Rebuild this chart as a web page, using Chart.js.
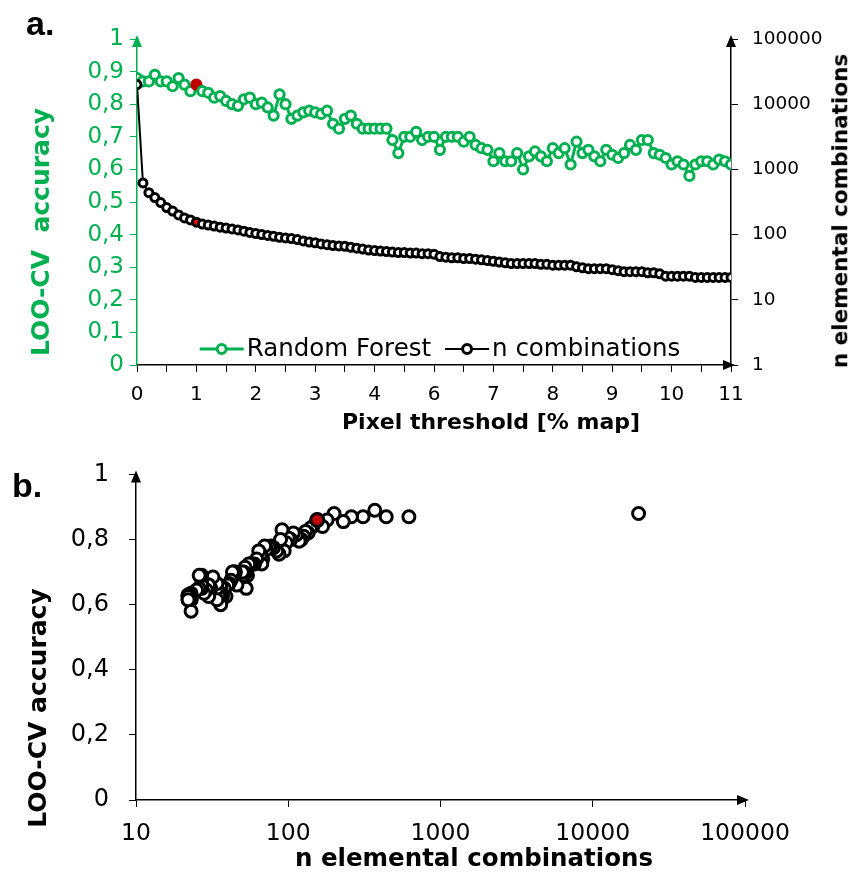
<!DOCTYPE html>
<html lang="en">
  <head>
    <meta charset="UTF-8" />
    <title>LOO-CV accuracy vs pixel threshold</title>
    <script src="https://cdn.jsdelivr.net/npm/chart.js"></script>
    <style>
      body { margin: 0; background: #fff; }
      #wrap { position: relative; width: 851px; height: 875px; font-family: "DejaVu Sans", sans-serif; }
      .box { position: absolute; left: 0; width: 851px; }
      .txt { position: absolute; white-space: pre; font-weight: bold; line-height: 1; transform: translate(-50%, -50%); }
      .rot { transform: translate(-50%, -50%) rotate(-90deg); }
      .panel { position: absolute; font: bold 34px "Liberation Sans", sans-serif; line-height: 1; }
    </style>
  </head>
  <body>
    <div id="wrap">
      <div class="box" style="top:0;height:440px"><canvas id="topChart"></canvas></div>
      <div class="box" style="top:440px;height:435px"><canvas id="bottomChart"></canvas></div>

      <div class="panel" style="left:26px;top:6px">a.</div>
      <div class="panel" style="left:12px;top:468px">b.</div>

      <div class="txt rot" style="left:40px;top:232px;font-size:25px;color:#00b050">LOO-CV  accuracy</div>
      <div class="txt rot" style="left:840px;top:211px;font-size:21.5px">n elemental combinations</div>
      <div class="txt" style="left:491px;top:422px;font-size:22px">Pixel threshold [% map]</div>
      <div class="txt rot" style="left:37px;top:708px;font-size:25px">LOO-CV accuracy</div>
      <div class="txt" style="left:474px;top:858px;font-size:24.5px">n elemental combinations</div>
    </div>

    <script>
      // ---- data ----
      const thresholdLabels = ["0", "1", "2", "3", "4", "6", "7", "8", "9", "10", "11"];

      // LOO-CV accuracy (Random Forest), one value per threshold step
      const accuracy = [
        0.88, 0.87, 0.87, 0.89, 0.87, 0.87, 0.855, 0.88, 0.86, 0.84,
        0.86, 0.84, 0.835, 0.82, 0.825, 0.81, 0.8, 0.795, 0.815, 0.82,
        0.8, 0.805, 0.79, 0.765, 0.83, 0.8, 0.755, 0.765, 0.775, 0.78,
        0.775, 0.77, 0.78, 0.74, 0.725, 0.755, 0.765, 0.74, 0.725, 0.725,
        0.725, 0.725, 0.725, 0.69, 0.65, 0.7, 0.7, 0.715, 0.69, 0.7,
        0.7, 0.66, 0.7, 0.7, 0.7, 0.685, 0.7, 0.675, 0.665, 0.66,
        0.625, 0.65, 0.625, 0.625, 0.65, 0.6, 0.64, 0.655, 0.64, 0.625,
        0.665, 0.65, 0.665, 0.615, 0.685, 0.65, 0.66, 0.64, 0.625, 0.66,
        0.645, 0.635, 0.65, 0.675, 0.66, 0.69, 0.69, 0.65, 0.645, 0.635,
        0.615, 0.625, 0.615, 0.58, 0.615, 0.625, 0.625, 0.615, 0.63, 0.625,
        0.615
      ];

      // number of elemental combinations left at each threshold step
      const nCombinations = [
        20000, 620, 440, 370, 310, 260, 230, 200, 180, 168,
        155, 145, 140, 135, 130, 126, 122, 118, 113, 108,
        104, 100, 97, 94, 91, 89, 87, 84, 80, 77,
        75, 72, 70, 68, 67, 66, 64, 62, 60, 58,
        57, 56, 55, 54, 53, 53, 52, 52, 51, 51,
        50, 46, 45, 44, 44, 43, 43, 42, 41, 40,
        39, 38, 37, 36, 36, 36, 36, 36, 35, 35,
        34, 34, 34, 34, 32, 31, 30, 30, 30, 30,
        29, 28, 27, 27, 27, 27, 26, 26, 25, 23,
        23, 23, 23, 23, 22, 22, 22, 22, 22, 22,
        22
      ];

      const highlightIndex = 10; // the 1 % threshold point shown in red

      const accTicks = [0, 0.1, 0.2, 0.3, 0.4, 0.5, 0.6, 0.7, 0.8, 0.9, 1];
      const combTicks = [1, 10, 100, 1000, 10000, 100000];
      const scatterAccTicks = [0, 0.2, 0.4, 0.6, 0.8, 1];
      const scatterCombTicks = [10, 100, 1000, 10000, 100000];

      // ---- helpers ----
      const GREEN = "#00b050";
      const comma = (v) => String(+v.toFixed(2)).replace(".", ",");
      const font = (size, family) => ({ size, family: family || "DejaVu Sans" });
      const fixTicks = (list) => (s) => { s.ticks = list.map((value) => ({ value })); };

      // arrow heads at the end of the axis lines
      const axisArrows = {
        id: "axisArrows",
        afterDraw(chart, args, opts) {
          const { ctx, chartArea: a } = chart;
          (opts.list || []).forEach((ar) => {
            const s = chart.scales[ar.scale];
            ctx.save();
            ctx.fillStyle = ar.color;
            ctx.beginPath();
            if (ar.dir === "up") {
              const x = s.position === "left" ? s.right : s.left;
              ctx.moveTo(x, a.top - 4);
              ctx.lineTo(x - 5, a.top + 8);
              ctx.lineTo(x + 5, a.top + 8);
            } else {
              const y = s.top;
              ctx.moveTo(a.right + 4, y);
              ctx.lineTo(a.right - 8, y - 5);
              ctx.lineTo(a.right - 8, y + 5);
            }
            ctx.closePath();
            ctx.fill();
            ctx.restore();
          });
        },
      };

      // legend drawn inside the plot, along its bottom edge
      const innerLegend = {
        id: "innerLegend",
        afterDatasetsDraw(chart, args, opts) {
          if (!opts.show) return;
          const { ctx, chartArea: a } = chart;
          const lineLen = 44, gapText = 3, gapItem = 14;
          ctx.save();
          ctx.font = opts.font;
          const items = chart.data.datasets.map((ds) => ({ ds, w: ctx.measureText(ds.label).width }));
          const total = items.reduce((s, it) => s + lineLen + gapText + it.w, 0) + gapItem * (items.length - 1);
          let x = (a.left + a.right) / 2 + opts.shift - total / 2;
          const y = a.bottom - opts.lift;
          items.forEach(({ ds, w }) => {
            ctx.strokeStyle = ds.borderColor;
            ctx.lineWidth = ds.borderWidth;
            ctx.beginPath();
            ctx.moveTo(x, y);
            ctx.lineTo(x + lineLen, y);
            ctx.stroke();
            ctx.beginPath();
            ctx.arc(x + lineLen / 2, y, 4.5, 0, Math.PI * 2);
            ctx.fillStyle = "#fff";
            ctx.fill();
            ctx.lineWidth = 3;
            ctx.stroke();
            ctx.fillStyle = "#000";
            ctx.textBaseline = "middle";
            ctx.fillText(ds.label, x + lineLen + gapText, y + 1);
            x += lineLen + gapText + w + gapItem;
          });
          ctx.restore();
        },
      };

      Chart.register(axisArrows, innerLegend);

      // ---- a. accuracy and combinations vs threshold ----
      const idx = accuracy.map((_, i) => i);

      new Chart(document.getElementById("topChart"), {
        type: "line",
        data: {
          datasets: [
            {
              label: "Random Forest",
              data: idx.map((i) => ({ x: i, y: accuracy[i] })),
              yAxisID: "yAcc",
              order: 2,
              borderColor: GREEN,
              borderWidth: 3,
              pointRadius: 4.6,
              pointBorderWidth: 3,
              pointBorderColor: idx.map((i) => (i === highlightIndex ? "#c00000" : GREEN)),
              pointBackgroundColor: idx.map((i) => (i === highlightIndex ? "#c00000" : "#fff")),
              tension: 0,
            },
            {
              label: "n combinations",
              data: idx.map((i) => ({ x: i, y: nCombinations[i] })),
              yAxisID: "yComb",
              order: 1,
              borderColor: "#000",
              borderWidth: 2,
              pointRadius: 4,
              pointBorderWidth: 3,
              pointBorderColor: "#000",
              pointBackgroundColor: idx.map((i) => (i === highlightIndex ? "#ff0000" : "#fff")),
              tension: 0,
            },
          ],
        },
        options: {
          responsive: true,
          maintainAspectRatio: false,
          animation: false,
          layout: { padding: { top: 39, left: 0, right: 0, bottom: 0 } },
          plugins: {
            legend: { display: false },
            tooltip: { enabled: false },
            innerLegend: { show: true, font: '24.5px "DejaVu Sans"', shift: 6, lift: 16 },
            axisArrows: {
              list: [
                { scale: "yAcc", dir: "up", color: GREEN },
                { scale: "yComb", dir: "up", color: "#000" },
                { scale: "x", dir: "right", color: "#000" },
              ],
            },
          },
          scales: {
            x: {
              type: "linear",
              min: 0,
              max: accuracy.length - 1,
              afterBuildTicks: (s) => { s.ticks = idx.filter((i) => i % 5 === 0).map((value) => ({ value })); },
              afterFit: (s) => { s.height = 75; },
              ticks: {
                autoSkip: false,
                maxRotation: 0,
                padding: 11,
                color: "#000",
                font: font(20),
                callback: (v) => (v % 10 === 0 ? thresholdLabels[v / 10] : ""),
              },
              grid: { drawOnChartArea: false, tickLength: 7, color: "#000" },
              border: { color: "#000", width: 1.5 },
            },
            yAcc: {
              type: "linear",
              position: "left",
              min: 0,
              max: 1,
              afterBuildTicks: fixTicks(accTicks),
              afterFit: (s) => { s.width = 137; },
              ticks: { color: GREEN, font: font(23), padding: 6, callback: (v) => comma(v) },
              grid: { drawOnChartArea: false, tickLength: 7, color: GREEN },
              border: { color: GREEN, width: 1.5 },
            },
            yComb: {
              type: "logarithmic",
              position: "right",
              min: 1,
              max: 100000,
              afterBuildTicks: fixTicks(combTicks),
              afterFit: (s) => { s.width = 120; },
              ticks: { color: "#000", font: font(18.5), padding: 14, callback: (v) => String(v) },
              grid: { drawOnChartArea: false, tickLength: 7, color: "#000" },
              border: { color: "#000", width: 1.5 },
            },
          },
        },
      });

      // ---- b. accuracy vs number of combinations ----
      new Chart(document.getElementById("bottomChart"), {
        type: "scatter",
        data: {
          datasets: [
            {
              label: "highlight",
              data: [{ x: nCombinations[highlightIndex], y: accuracy[highlightIndex] }],
              order: 1,
              pointRadius: 6.5,
              pointBorderWidth: 3,
              pointBorderColor: "#000",
              pointBackgroundColor: "#c00000",
            },
            {
              label: "Random Forest",
              data: idx.map((i) => ({ x: nCombinations[i], y: accuracy[i] })),
              order: 2,
              pointRadius: 6,
              pointBorderWidth: 3,
              pointBorderColor: "#000",
              pointBackgroundColor: "#fff",
            },
          ],
        },
        options: {
          responsive: true,
          maintainAspectRatio: false,
          animation: false,
          layout: { padding: { top: 33, left: 0, right: 106, bottom: 0 } },
          plugins: {
            legend: { display: false },
            tooltip: { enabled: false },
            axisArrows: {
              list: [
                { scale: "y", dir: "up", color: "#000" },
                { scale: "x", dir: "right", color: "#000" },
              ],
            },
          },
          scales: {
            x: {
              type: "logarithmic",
              min: 10,
              max: 100000,
              afterBuildTicks: fixTicks(scatterCombTicks),
              afterFit: (s) => { s.height = 75; },
              ticks: { color: "#000", font: font(23.5), padding: 13, maxRotation: 0, callback: (v) => String(v) },
              grid: { drawOnChartArea: false, tickLength: 7, color: "#000" },
              border: { color: "#000", width: 1.5 },
            },
            y: {
              type: "linear",
              min: 0,
              max: 1,
              afterBuildTicks: fixTicks(scatterAccTicks),
              afterFit: (s) => { s.width = 136; },
              ticks: { color: "#000", font: font(24), padding: 20, callback: (v) => comma(v) },
              grid: { drawOnChartArea: false, tickLength: 7, color: "#000" },
              border: { color: "#000", width: 1.5 },
            },
          },
        },
      });
    </script>
  </body>
</html>
